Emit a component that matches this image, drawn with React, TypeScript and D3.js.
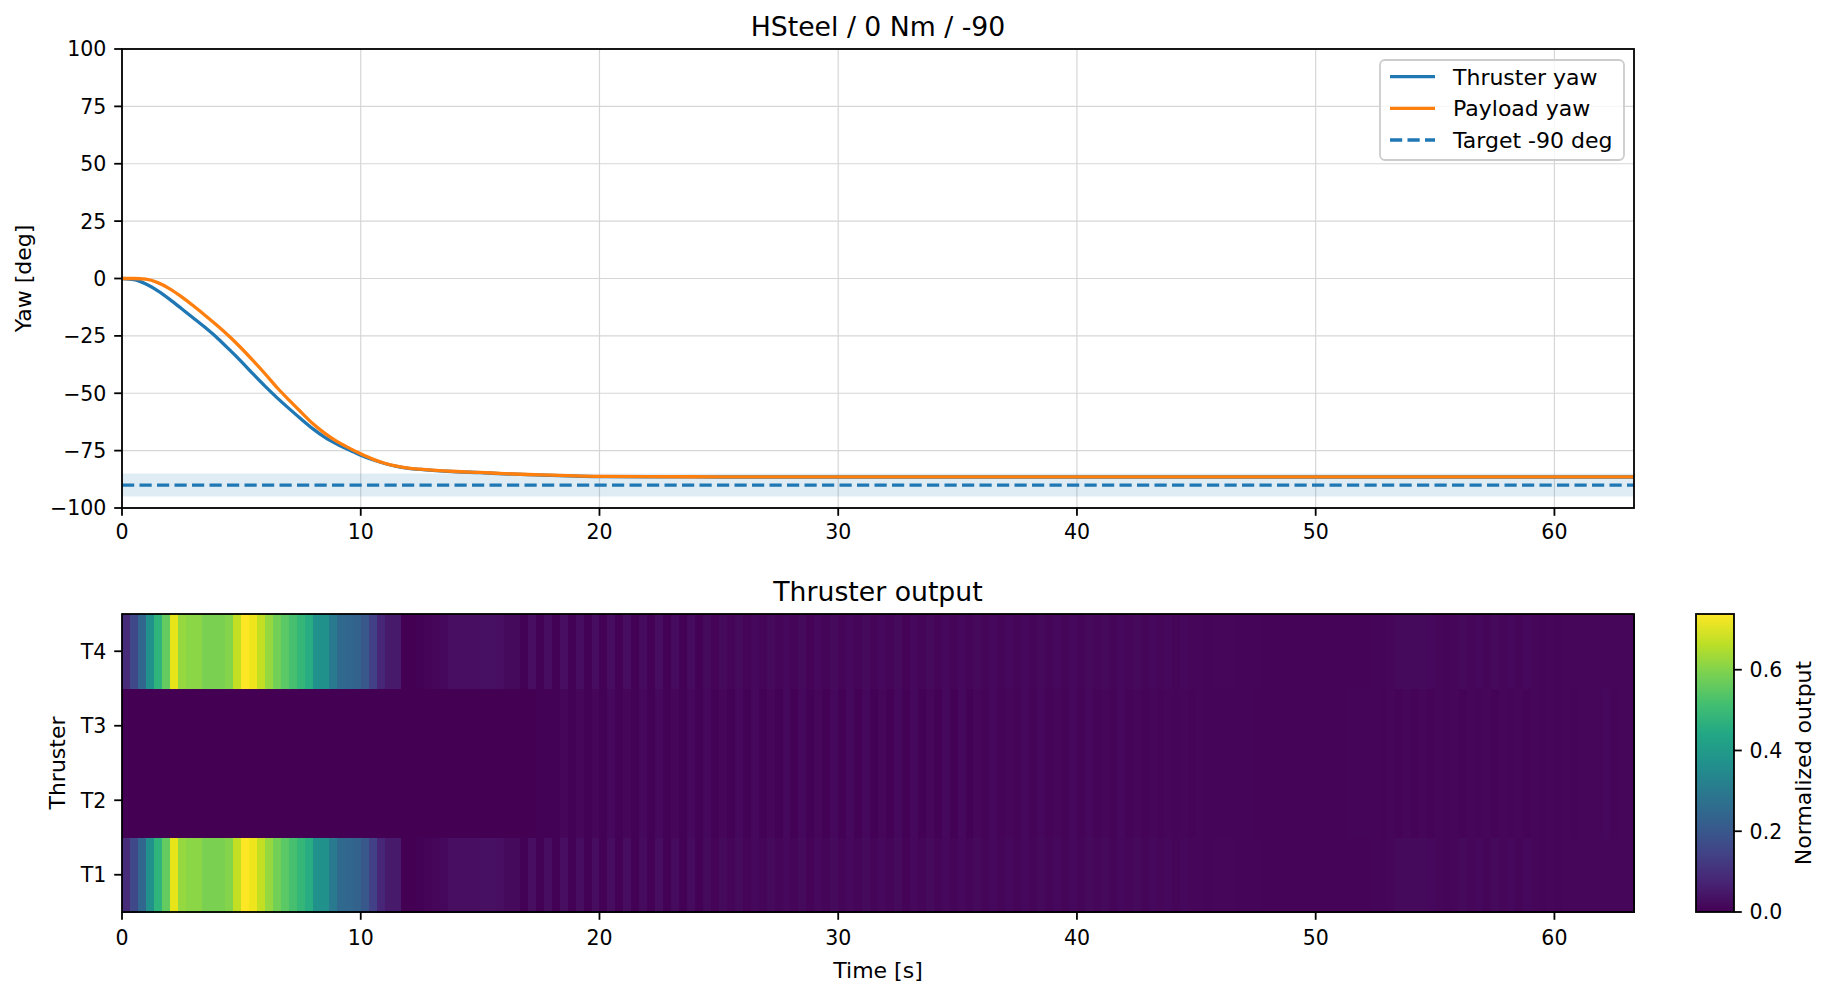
import { curveMonotoneX, interpolateViridis, line, max, scaleBand, scaleLinear, scaleSequential } from "d3";

const width = 1829;
const height = 992;
const font = "DejaVu Sans, Liberation Sans, sans-serif";

// yaw response
const yawTime = [
  0, 0.5, 1, 1.5, 2, 2.5, 3, 3.5, 4, 4.5, 5, 5.5, 6, 6.5, 7, 7.5, 8, 8.5, 9, 9.5, 10, 10.5, 11, 11.5,
  12, 12.5, 13, 14, 15, 16, 17, 18, 19, 20, 22, 25, 30, 40, 50, 63.33,
];
const thrusterYaw = [
  0, -0.5, -2.4, -5.4, -9.1, -13.2, -17.3, -21.5, -26.0, -31.0, -36.2, -41.7, -47.0, -52.0, -56.7, -61.2,
  -65.5, -69.2, -72.1, -74.6, -77.0, -79.0, -80.6, -81.9, -82.7, -83.2, -83.6, -84.2, -84.6, -85.1, -85.5,
  -85.8, -86.1, -86.3, -86.4, -86.5, -86.5, -86.5, -86.5, -86.5,
];
const payloadYaw = [
  0, 0, -0.3, -1.8, -4.5, -8.0, -12.0, -16.2, -20.6, -25.3, -30.4, -35.9, -41.6, -47.6, -53.0, -58.2,
  -63.3, -67.5, -71.0, -73.8, -76.4, -78.7, -80.5, -81.8, -82.6, -83.1, -83.5, -84.1, -84.5, -85.0, -85.4,
  -85.7, -86.0, -86.2, -86.3, -86.4, -86.4, -86.4, -86.4, -86.4,
];
const targetYaw = -90;
const targetBand = 5;

// thruster output, one column per 1/3 s
const sampleStep = 1 / 3;
const outerOutput = [
  0.09, 0.16, 0.24, 0.37, 0.48, 0.56, 0.71, 0.62, 0.61, 0.61,
  0.59, 0.59, 0.59, 0.60, 0.67, 0.738, 0.72, 0.67, 0.62, 0.58,
  0.55, 0.52, 0.49, 0.46, 0.37, 0.37, 0.30, 0.25, 0.24, 0.23,
  0.20, 0.14, 0.08, 0.05, 0.05, 0.0, 0.0, 0.004, 0.006, 0.012,
  0.015, 0.026, 0.028, 0.028, 0.026, 0.03, 0.031, 0.028, 0.02, 0.018,
  0.003, 0.026, 0.003, 0.025, 0.004, 0.026, 0.003, 0.024, 0.004, 0.025,
  0.003, 0.024, 0.004, 0.025, 0.003, 0.023, 0.004, 0.024, 0.003, 0.022,
  0.004, 0.021, 0.004, 0.02, 0.008, 0.018, 0.01, 0.019, 0.008, 0.017,
  0.01, 0.018, 0.009, 0.016, 0.01, 0.019, 0.008, 0.017, 0.01, 0.018,
  0.009, 0.016, 0.011, 0.018, 0.009, 0.017, 0.01, 0.019, 0.008, 0.016,
  0.01, 0.018, 0.009, 0.017, 0.011, 0.016, 0.009, 0.018, 0.01, 0.017,
  0.009, 0.016, 0.01, 0.017, 0.009, 0.018, 0.01, 0.016, 0.011, 0.017,
  0.01, 0.018, 0.012, 0.019, 0.011, 0.017, 0.012, 0.018, 0.01, 0.016,
  0.012, 0.017, 0.011, 0.015, 0.012, 0.014, 0.011, 0.013, 0.012, 0.012,
  0.011, 0.01, 0.009, 0.008, 0.008, 0.007, 0.008, 0.007, 0.008, 0.007,
  0.007, 0.008, 0.007, 0.008, 0.007, 0.008, 0.008, 0.009, 0.01, 0.012,
  0.018, 0.02, 0.019, 0.02, 0.016, 0.012, 0.011, 0.013, 0.018, 0.012,
  0.017, 0.011, 0.018, 0.012, 0.017, 0.011, 0.016, 0.012, 0.01, 0.012,
  0.011, 0.013, 0.012, 0.014, 0.012, 0.013, 0.012, 0.014, 0.013, 0.012,
];
const innerOutput = [
  0, 0, 0, 0, 0, 0, 0, 0, 0, 0,
  0, 0, 0, 0, 0, 0, 0, 0, 0, 0,
  0, 0, 0, 0, 0, 0, 0, 0, 0, 0,
  0, 0, 0, 0, 0, 0, 0, 0, 0, 0,
  0.001, 0.001, 0.001, 0.001, 0.001, 0.002, 0.002, 0.002, 0.002, 0.002,
  0.002, 0.002, 0.003, 0.003, 0.004, 0.012, 0.003, 0.014, 0.004, 0.013,
  0.003, 0.015, 0.004, 0.014, 0.003, 0.015, 0.004, 0.016, 0.003, 0.014,
  0.004, 0.015, 0.003, 0.016, 0.005, 0.014, 0.004, 0.015, 0.005, 0.016,
  0.004, 0.014, 0.005, 0.015, 0.004, 0.016, 0.005, 0.014, 0.004, 0.015,
  0.005, 0.016, 0.004, 0.015, 0.005, 0.014, 0.004, 0.016, 0.005, 0.015,
  0.004, 0.014, 0.005, 0.016, 0.004, 0.015, 0.005, 0.014, 0.006, 0.015,
  0.006, 0.014, 0.007, 0.015, 0.006, 0.016, 0.007, 0.014, 0.006, 0.015,
  0.007, 0.016, 0.006, 0.014, 0.007, 0.015, 0.006, 0.014, 0.008, 0.013,
  0.008, 0.014, 0.009, 0.013, 0.008, 0.012, 0.009, 0.011, 0.009, 0.01,
  0.009, 0.009, 0.008, 0.008, 0.007, 0.007, 0.007, 0.007, 0.007, 0.007,
  0.007, 0.007, 0.008, 0.008, 0.009, 0.01, 0.009, 0.011, 0.008, 0.012,
  0.008, 0.013, 0.007, 0.012, 0.008, 0.013, 0.009, 0.014, 0.008, 0.013,
  0.009, 0.014, 0.008, 0.013, 0.009, 0.014, 0.008, 0.012, 0.009, 0.013,
  0.01, 0.012, 0.011, 0.012, 0.013, 0.012, 0.015, 0.011, 0.013, 0.012,
];
const thrusterNames = ["T4", "T3", "T2", "T1"];
const thrusterRows = [outerOutput, innerOutput, innerOutput, outerOutput];

const xTicks = [0, 10, 20, 30, 40, 50, 60];
const yTicks = [-100, -75, -50, -25, 0, 25, 50, 75, 100];
const cbTicks = [0, 0.2, 0.4, 0.6];

const blue = "#1f77b4";
const orange = "#ff7f0e";

// layout (px)
const left = 122;
const right = 1634;
const top1 = 49;
const bottom1 = 508;
const top2 = 614;
const bottom2 = 912;
const cbLeft = 1696;
const cbRight = 1734;
const tickLen = 7.8;
const tickFont = 20.5;
const labelFont = 22;
const titleFont = 26.7;
const lw = 3.3;
const spine = 1.8;

const fmt = (v: number) => (v < 0 ? "\u2212" + Math.abs(v) : String(v));

function App() {
  const tEnd = outerOutput.length * sampleStep;
  const x = scaleLinear().domain([0, tEnd]).range([left, right]);
  const y = scaleLinear().domain([-100, 100]).range([bottom1, top1]);
  const rowY = scaleBand().domain(thrusterNames).range([top2, bottom2]);
  const vmax = max(outerOutput) as number;
  const color = scaleSequential(interpolateViridis).domain([0, vmax]);
  const cbY = scaleLinear().domain([0, vmax]).range([bottom2, top2]);

  const yawLine = (vals: number[]) =>
    line<number>()
      .x((_, i) => x(yawTime[i]))
      .y((d) => y(d))
      .curve(curveMonotoneX)(vals) as string;

  const gradStops = Array.from({ length: 11 }, (_, i) => i / 10);

  const legendItems = [
    { label: "Thruster yaw", color: blue, dash: "none" },
    { label: "Payload yaw", color: orange, dash: "none" },
    { label: "Target -90 deg", color: blue, dash: "12.2 5.3" },
  ];

  return (
    <svg
      width={width}
      height={height}
      style={{ position: "absolute", left: 0, top: 0, background: "#fff" }}
      fontFamily={font}
    >
      <defs>
        <clipPath id="clipTop">
          <rect x={left} y={top1} width={right - left} height={bottom1 - top1} />
        </clipPath>
        <linearGradient id="viridis" x1="0" y1="1" x2="0" y2="0">
          {gradStops.map((s) => (
            <stop key={s} offset={s} stopColor={interpolateViridis(s)} />
          ))}
        </linearGradient>
      </defs>

      {/* ---------- yaw panel ---------- */}
      <rect x={left} y={top1} width={right - left} height={bottom1 - top1} fill="#fff" />
      <g stroke="#d6d6d6" strokeWidth={1.2}>
        {xTicks.map((t) => (
          <line key={"gx" + t} x1={x(t)} x2={x(t)} y1={top1} y2={bottom1} />
        ))}
        {yTicks.map((t) => (
          <line key={"gy" + t} x1={left} x2={right} y1={y(t)} y2={y(t)} />
        ))}
      </g>
      <g clipPath="url(#clipTop)">
        <rect
          x={left}
          width={right - left}
          y={y(targetYaw + targetBand)}
          height={y(targetYaw - targetBand) - y(targetYaw + targetBand)}
          fill={blue}
          fillOpacity={0.14}
        />
        <line
          x1={left}
          x2={right}
          y1={y(targetYaw)}
          y2={y(targetYaw)}
          stroke={blue}
          strokeWidth={lw}
          strokeDasharray="12.2 5.3"
        />
        <path d={yawLine(thrusterYaw)} fill="none" stroke={blue} strokeWidth={lw} strokeLinejoin="round" />
        <path d={yawLine(payloadYaw)} fill="none" stroke={orange} strokeWidth={lw} strokeLinejoin="round" />
      </g>
      <rect x={left} y={top1} width={right - left} height={bottom1 - top1} fill="none" stroke="#000" strokeWidth={spine} />
      {xTicks.map((t) => (
        <g key={"xt" + t}>
          <line x1={x(t)} x2={x(t)} y1={bottom1} y2={bottom1 + tickLen} stroke="#000" strokeWidth={spine} />
          <text x={x(t)} y={bottom1 + 30.5} fontSize={tickFont} textAnchor="middle">
            {t}
          </text>
        </g>
      ))}
      {yTicks.map((t) => (
        <g key={"yt" + t}>
          <line x1={left - tickLen} x2={left} y1={y(t)} y2={y(t)} stroke="#000" strokeWidth={spine} />
          <text x={left - 15.6} y={y(t)} dy="0.36em" fontSize={tickFont} textAnchor="end">
            {fmt(t)}
          </text>
        </g>
      ))}
      <text
        transform={`translate(23, ${(top1 + bottom1) / 2}) rotate(-90)`}
        fontSize={labelFont}
        textAnchor="middle"
        dy="0.36em"
      >
        Yaw [deg]
      </text>
      <text x={(left + right) / 2} y={36} fontSize={titleFont} textAnchor="middle">
        HSteel / 0 Nm / -90
      </text>

      {/* legend */}
      <g>
        <rect x={1380} y={60} width={244} height={100} rx={5} fill="#fff" fillOpacity={0.8} stroke="#cccccc" strokeWidth={1.8} />
        {legendItems.map((d, i) => {
          const cy = 76.6 + i * 31.7;
          return (
            <g key={d.label}>
              <line x1={1390} x2={1435} y1={cy} y2={cy} stroke={d.color} strokeWidth={lw} strokeDasharray={d.dash} />
              <text x={1453} y={cy} dy="0.36em" fontSize={labelFont}>
                {d.label}
              </text>
            </g>
          );
        })}
      </g>

      {/* ---------- thruster heatmap ---------- */}
      <g shapeRendering="crispEdges">
        {thrusterRows.map((row, r) =>
          row.map((v, i) => (
            <rect
              key={r + "-" + i}
              x={x(i * sampleStep)}
              width={x((i + 1) * sampleStep) - x(i * sampleStep) + 0.6}
              y={rowY(thrusterNames[r]) as number}
              height={rowY.bandwidth() + 0.6}
              fill={color(v)}
            />
          ))
        )}
      </g>
      <rect x={left} y={top2} width={right - left} height={bottom2 - top2} fill="none" stroke="#000" strokeWidth={spine} />
      {xTicks.map((t) => (
        <g key={"hx" + t}>
          <line x1={x(t)} x2={x(t)} y1={bottom2} y2={bottom2 + tickLen} stroke="#000" strokeWidth={spine} />
          <text x={x(t)} y={bottom2 + 33} fontSize={tickFont} textAnchor="middle">
            {t}
          </text>
        </g>
      ))}
      {thrusterNames.map((n) => {
        const cy = (rowY(n) as number) + rowY.bandwidth() / 2;
        return (
          <g key={"hy" + n}>
            <line x1={left - tickLen} x2={left} y1={cy} y2={cy} stroke="#000" strokeWidth={spine} />
            <text x={left - 15.6} y={cy} dy="0.36em" fontSize={tickFont} textAnchor="end">
              {n}
            </text>
          </g>
        );
      })}
      <text
        transform={`translate(57, ${(top2 + bottom2) / 2}) rotate(-90)`}
        fontSize={labelFont}
        textAnchor="middle"
        dy="0.36em"
      >
        Thruster
      </text>
      <text x={(left + right) / 2} y={970} dy="0.36em" fontSize={labelFont} textAnchor="middle">
        Time [s]
      </text>
      <text x={(left + right) / 2} y={601} fontSize={titleFont} textAnchor="middle">
        Thruster output
      </text>

      {/* colorbar */}
      <rect x={cbLeft} y={top2} width={cbRight - cbLeft} height={bottom2 - top2} fill="url(#viridis)" />
      <rect x={cbLeft} y={top2} width={cbRight - cbLeft} height={bottom2 - top2} fill="none" stroke="#000" strokeWidth={spine} />
      {cbTicks.map((t) => (
        <g key={"cb" + t}>
          <line x1={cbRight} x2={cbRight + tickLen} y1={cbY(t)} y2={cbY(t)} stroke="#000" strokeWidth={spine} />
          <text x={cbRight + 15.6} y={cbY(t)} dy="0.36em" fontSize={tickFont}>
            {t.toFixed(1)}
          </text>
        </g>
      ))}
      <text
        transform={`translate(1803, ${(top2 + bottom2) / 2}) rotate(-90)`}
        fontSize={labelFont}
        textAnchor="middle"
        dy="0.36em"
      >
        Normalized output
      </text>
    </svg>
  );
}

export default App;
